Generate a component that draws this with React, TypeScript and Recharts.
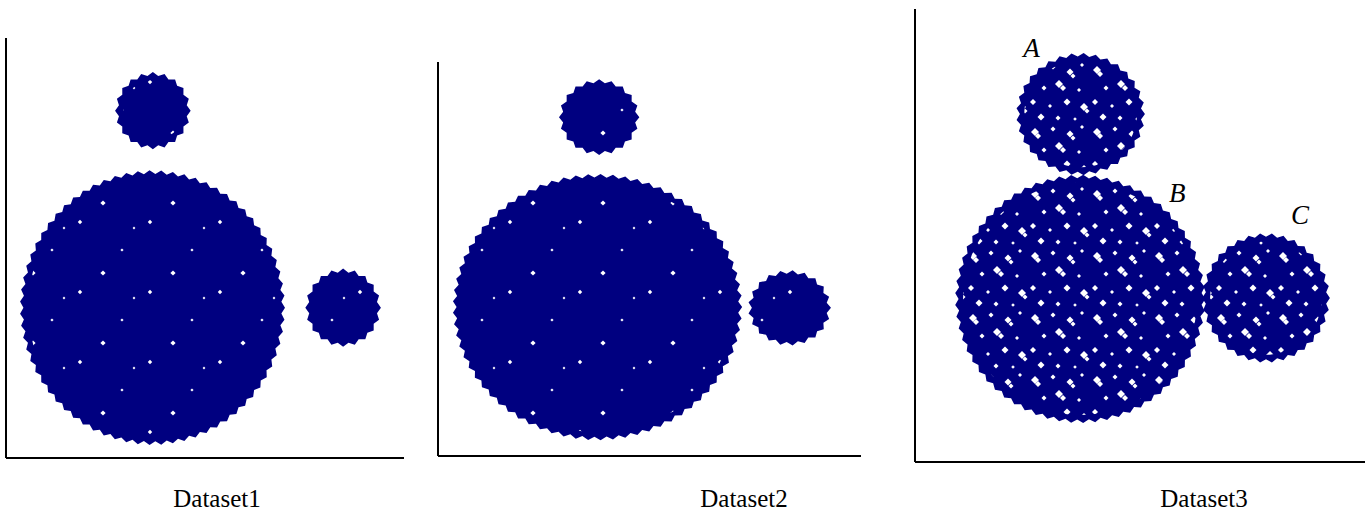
import React from 'react';
import { ScatterChart, Scatter, XAxis, YAxis } from 'recharts';

// ---------- data (cluster centres and radii, in each panel's axis units 0..100) ----------
const d1Names = ['top', 'main', 'right'];
const d1X = [36.9, 36.8, 84.7];
const d1Y = [82.7, 35.8, 35.8];
const d1Rx = [9.5, 33.3, 9.5];
const d1Ry = [9.2, 32.7, 9.3];

const d2Names = ['top', 'main', 'right'];
const d2X = [38.1, 37.7, 83.1];
const d2Y = [86.0, 37.8, 37.6];
const d2Rx = [9.5, 34.2, 9.8];
const d2Ry = [9.6, 33.8, 9.6];

const d3Names = ['A', 'B', 'C'];
const d3X = [36.8, 36.7, 78.0];
const d3Y = [76.8, 36.0, 36.2];
const d3Rx = [14.3, 27.8, 14.2];
const d3Ry = [13.5, 27.4, 14.3];

const datasetLabels = ['Dataset1', 'Dataset2', 'Dataset3'];

// ---------- styles ----------
const NAVY = '#000080';
const SERIF = '"Liberation Serif", "Times New Roman", serif';

type Row = { name: string; x: number; y: number; rx: number; ry: number };
const build = (n: string[], x: number[], y: number[], rx: number[], ry: number[]): Row[] =>
  n.map((name, i) => ({ name, x: x[i], y: y[i], rx: rx[i], ry: ry[i] }));

const data1 = build(d1Names, d1X, d1Y, d1Rx, d1Ry);
const data2 = build(d2Names, d2X, d2Y, d2Rx, d2Ry);
const data3 = build(d3Names, d3X, d3Y, d3Rx, d3Ry);

// label offsets (px from cluster centre) for the letters in panel 3
const LETTER_OFFSET: Record<string, [number, number]> = {
  A: [-49, -57],
  B: [97, -97],
  C: [34, -74],
};

type Panel = {
  key: string;
  data: Row[];
  left: number;
  width: number;
  margin: { top: number; right: number; bottom: number; left: number };
  texture: 'dense' | 'sparse';
};

const H = 511;
const AX = 2; // axis band size
const panels: Panel[] = [
  { key: 'p1', data: data1, left: 0, width: 420, margin: { top: 38, left: 6 - AX, right: 16, bottom: 53 - AX }, texture: 'sparse' },
  { key: 'p2', data: data2, left: 430, width: 440, margin: { top: 62, left: 8 - AX, right: 9, bottom: 55 - AX }, texture: 'sparse' },
  { key: 'p3', data: data3, left: 905, width: 460, margin: { top: 9, left: 10 - AX, right: 0, bottom: 49 - AX }, texture: 'dense' },
];
const labelCenters = [217, 744, 1204];

const diamond = (x: number, y: number, s: number) =>
  `${x},${y - s} ${x + s},${y} ${x},${y + s} ${x - s},${y}`;

const DENSE_SPECKS: [number, number, number][] = [
  [6, 8, 4], [9, 12, 3], [24, 5, 2.5], [41, 10, 3.5], [44, 14, 2.5], [53, 3, 2],
  [15, 26, 2.5], [30, 22, 4], [34, 26, 3], [50, 28, 2], [4, 40, 3], [21, 44, 2],
  [38, 40, 3.5], [55, 45, 4], [58, 49, 2.5], [12, 55, 3.5], [29, 56, 2.5], [46, 57, 1.8],
];
const SPARSE_SPECKS: [number, number, number][] = [
  [10, 12, 2.2], [52, 40, 1.6], [33, 63, 2.6], [64, 18, 1.4],
];

function Blob(props: any) {
  const { cx, cy, payload, kx, ky, texture } = props;
  if (cx == null || cy == null) return null;
  const rxp = payload.rx * kx;
  const ryp = payload.ry * ky;
  const perim = Math.PI * (rxp + ryp);
  const n = Math.max(10, Math.round(perim / 12));
  const depth = 3.5;
  const pts: string[] = [];
  for (let i = 0; i < 2 * n; i++) {
    const a = (i * Math.PI) / n;
    const f = i % 2 === 0 ? 1 : 1 - depth / Math.min(rxp, ryp);
    pts.push(`${(cx + rxp * f * Math.cos(a)).toFixed(2)},${(cy + ryp * f * Math.sin(a)).toFixed(2)}`);
  }
  const pid = texture === 'dense' ? 'tex-dense' : 'tex-sparse';
  const off = LETTER_OFFSET[payload.name];
  return (
    <g>
      <defs>
        <pattern id="tex-dense" width={62} height={62} patternUnits="userSpaceOnUse">
          {DENSE_SPECKS.map(([x, y, s], i) => (
            <polygon key={i} points={diamond(x, y, s)} fill="#fff" />
          ))}
        </pattern>
        <pattern id="tex-sparse" width={70} height={70} patternUnits="userSpaceOnUse">
          {SPARSE_SPECKS.map(([x, y, s], i) => (
            <polygon key={i} points={diamond(x, y, s)} fill="#fff" />
          ))}
        </pattern>
      </defs>
      <polygon points={pts.join(' ')} fill={NAVY} />
      <ellipse cx={cx} cy={cy} rx={Math.max(0, rxp - 8)} ry={Math.max(0, ryp - 8)} fill={`url(#${pid})`} />
      {off && (
        <text
          x={cx + off[0]}
          y={cy + off[1]}
          textAnchor="middle"
          fontFamily={SERIF}
          fontStyle="italic"
          fontSize={27}
          fill="#000"
        >
          {payload.name}
        </text>
      )}
    </g>
  );
}

export default function App() {
  return (
    <div style={{ position: 'absolute', left: 0, top: 0, width: 1365, height: H, background: '#fff' }}>
      {panels.map((p) => {
        const plotW = p.width - p.margin.left - p.margin.right - AX;
        const plotH = H - p.margin.top - p.margin.bottom - AX;
        const kx = plotW / 100;
        const ky = plotH / 100;
        return (
          <div key={p.key} style={{ position: 'absolute', left: p.left, top: 0 }}>
            <ScatterChart width={p.width} height={H} margin={p.margin}>
              <XAxis
                type="number"
                dataKey="x"
                domain={[0, 100]}
                height={AX}
                tick={false}
                tickLine={false}
                axisLine={{ stroke: '#000', strokeWidth: 2 }}
              />
              <YAxis
                type="number"
                dataKey="y"
                domain={[0, 100]}
                width={AX}
                tick={false}
                tickLine={false}
                axisLine={{ stroke: '#000', strokeWidth: 2 }}
              />
              <Scatter
                data={p.data}
                isAnimationActive={false}
                fill={NAVY}
                shape={(sp: any) => <Blob {...sp} kx={kx} ky={ky} texture={p.texture} />}
              />
            </ScatterChart>
          </div>
        );
      })}
      <svg width={1365} height={H} style={{ position: 'absolute', left: 0, top: 0, pointerEvents: 'none' }}>
        {datasetLabels.map((t, i) => (
          <text key={t} x={labelCenters[i]} y={507} textAnchor="middle" fontFamily={SERIF} fontSize={25} fill="#000">
            {t}
          </text>
        ))}
      </svg>
    </div>
  );
}
